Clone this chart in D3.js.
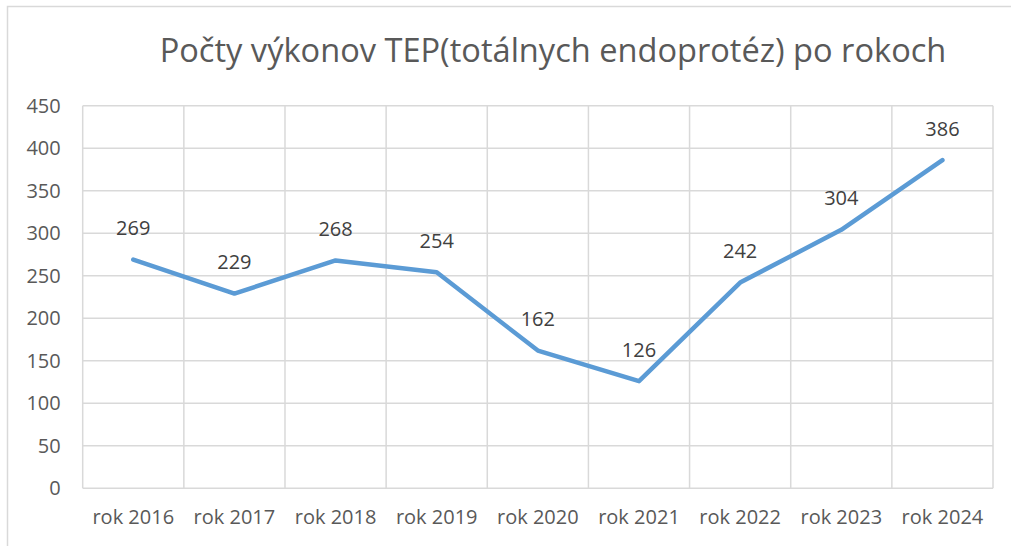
<!DOCTYPE html>
<html>
<head>
<meta charset="utf-8">
<script src="https://cdn.jsdelivr.net/npm/d3@7"></script>
<style>
    html, body { margin: 0; padding: 0; background: #fff; }
    svg { display: block; }
</style>
</head>
<body>
<svg id="chart"></svg>
<script>
// data
const categories = ["rok 2016", "rok 2017", "rok 2018", "rok 2019", "rok 2020", "rok 2021", "rok 2022", "rok 2023", "rok 2024"];
const values = [269, 229, 268, 254, 162, 126, 242, 304, 386];
const yTicks = [0, 50, 100, 150, 200, 250, 300, 350, 400, 450];
const title = "Počty výkonov TEP(totálnych endoprotéz) po rokoch";

const W = 1011, H = 546;
const MARGIN = {LEFT: 82.7, RIGHT: 1011 - 993, TOP: 105.7, BOTTOM: 546 - 488.3};
const FONT = "'Open Sans', sans-serif";
const GRID = "#d9d9d9";

const svg = d3.select("#chart").attr("width", W).attr("height", H);

// outer chart border (only left/top are inside the picture)
svg.append("rect")
    .attr("x", 7.5).attr("y", 6.5)
    .attr("width", W + 20).attr("height", H + 20)
    .attr("fill", "#fff")
    .attr("stroke", GRID)
    .attr("stroke-width", 1.5);

const xScale = d3.scaleBand().domain(categories).range([MARGIN.LEFT, W - MARGIN.RIGHT]).padding(0);
const yScale = d3.scaleLinear().domain([0, 450]).range([H - MARGIN.BOTTOM, MARGIN.TOP]);

// horizontal grid
svg.append("g")
    .selectAll("line")
    .data(yTicks)
    .join("line")
    .attr("x1", MARGIN.LEFT).attr("x2", W - MARGIN.RIGHT)
    .attr("y1", d => yScale(d)).attr("y2", d => yScale(d))
    .attr("stroke", GRID).attr("stroke-width", 1.5);

// vertical grid on band edges
const edges = categories.map(c => xScale(c)).concat([xScale.range()[1]]);
svg.append("g")
    .selectAll("line")
    .data(edges)
    .join("line")
    .attr("x1", d => d).attr("x2", d => d)
    .attr("y1", yScale(0)).attr("y2", yScale(450))
    .attr("stroke", GRID).attr("stroke-width", 1.5);

// y axis labels
svg.append("g")
    .attr("transform", "translate(" + (MARGIN.LEFT - 22) + ",0)")
    .call(d3.axisLeft(yScale).tickValues(yTicks).tickSize(0).tickPadding(0))
    .call(g => g.select(".domain").remove())
    .selectAll("text")
    .attr("font-family", FONT)
    .attr("font-size", "20px")
    .attr("fill", "#595959");

// x axis labels
svg.append("g")
    .attr("transform", "translate(0," + (yScale(0)) + ")")
    .call(d3.axisBottom(xScale).tickSize(0).tickPadding(22))
    .call(g => g.select(".domain").remove())
    .selectAll("text")
    .attr("font-family", FONT)
    .attr("font-size", "20px")
    .attr("fill", "#595959");

// line
const valueline = d3.line()
    .x((d, i) => xScale(categories[i]) + xScale.bandwidth() / 2)
    .y(d => yScale(d));

svg.append("path")
    .datum(values)
    .attr("d", valueline)
    .attr("fill", "none")
    .attr("stroke", "#5b9bd5")
    .attr("stroke-width", 4.5)
    .attr("stroke-linecap", "round")
    .attr("stroke-linejoin", "round");

// data labels
svg.append("g")
    .selectAll("text")
    .data(values)
    .join("text")
    .attr("x", (d, i) => xScale(categories[i]) + xScale.bandwidth() / 2)
    .attr("y", d => yScale(d) - 24.5)
    .attr("text-anchor", "middle")
    .attr("font-family", FONT)
    .attr("font-size", "20px")
    .attr("fill", "#404040")
    .text(d => d);

// title
svg.append("text")
    .attr("x", 553)
    .attr("y", 62)
    .attr("text-anchor", "middle")
    .attr("font-family", FONT)
    .attr("font-size", "32.6px")
    .attr("fill", "#595959")
    .text(title);
</script>
</body>
</html>
